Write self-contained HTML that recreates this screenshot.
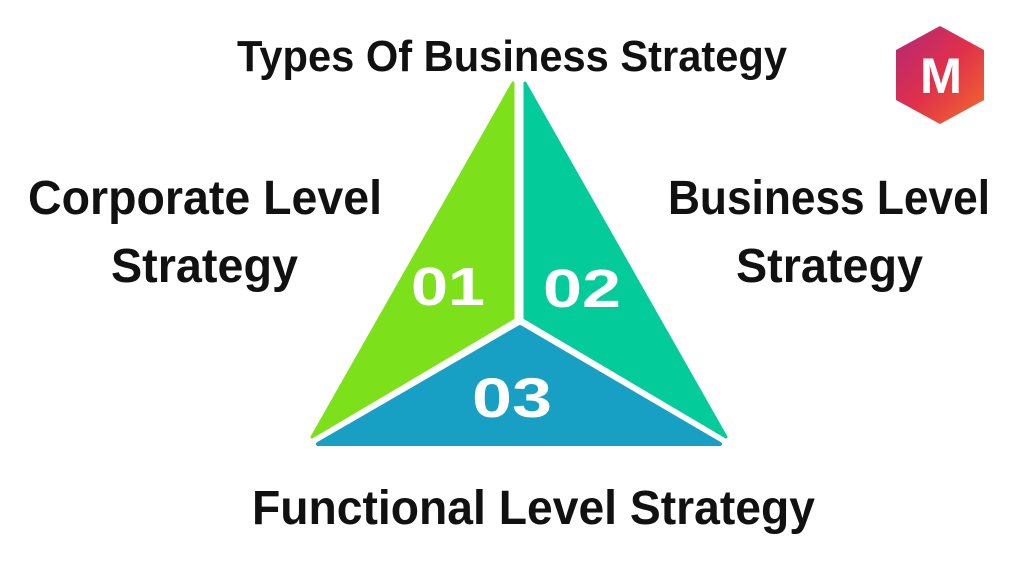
<!DOCTYPE html>
<html><head><style>body{margin:0;background:#fff}svg{display:block}</style></head>
<body>
<svg width="1024" height="576" viewBox="0 0 1024 576" xmlns="http://www.w3.org/2000/svg" font-family="Liberation Sans, sans-serif" font-weight="bold">
<defs><linearGradient id="g" x1="0" y1="0" x2="1" y2="1"><stop offset="0" stop-color="#b0287a"/><stop offset="0.5" stop-color="#e0304a"/><stop offset="1" stop-color="#f36b2c"/></linearGradient></defs>
<text x="237" y="71" font-size="44" textLength="550" lengthAdjust="spacingAndGlyphs" fill="#111">Types Of Business Strategy</text>
<polygon points="940,26 984,50 984,100 940,124 896,100 896,50" fill="url(#g)"/>
<text x="941" y="93" font-size="50" text-anchor="middle" textLength="42" lengthAdjust="spacingAndGlyphs" fill="#fff">M</text>
<polygon points="513,83 513,318 312,437" fill="#7ce11a" stroke="#7ce11a" stroke-linejoin="round" stroke-width="3"/>
<polygon points="525,83 726,437 525,318" fill="#04cb9a" stroke="#04cb9a" stroke-linejoin="round" stroke-width="3"/>
<polygon points="520,327 720,444 318,444" fill="#17a0c4" stroke="#17a0c4" stroke-linejoin="round" stroke-width="4"/>
<text x="411" y="305" font-size="54" textLength="74" lengthAdjust="spacingAndGlyphs" fill="#fff">01</text>
<text x="543" y="307" font-size="54" textLength="78" lengthAdjust="spacingAndGlyphs" fill="#fff">02</text>
<text x="472" y="417" font-size="56" textLength="80" lengthAdjust="spacingAndGlyphs" fill="#fff">03</text>
<text x="28" y="214" font-size="48" textLength="354" lengthAdjust="spacingAndGlyphs" fill="#111">Corporate Level</text>
<text x="111" y="282" font-size="48" textLength="187" lengthAdjust="spacingAndGlyphs" fill="#111">Strategy</text>
<text x="668" y="214" font-size="48" textLength="322" lengthAdjust="spacingAndGlyphs" fill="#111">Business Level</text>
<text x="736" y="282" font-size="48" textLength="187" lengthAdjust="spacingAndGlyphs" fill="#111">Strategy</text>
<text x="252" y="524" font-size="48" textLength="563" lengthAdjust="spacingAndGlyphs" fill="#111">Functional Level Strategy</text>
</svg>
</body></html>
